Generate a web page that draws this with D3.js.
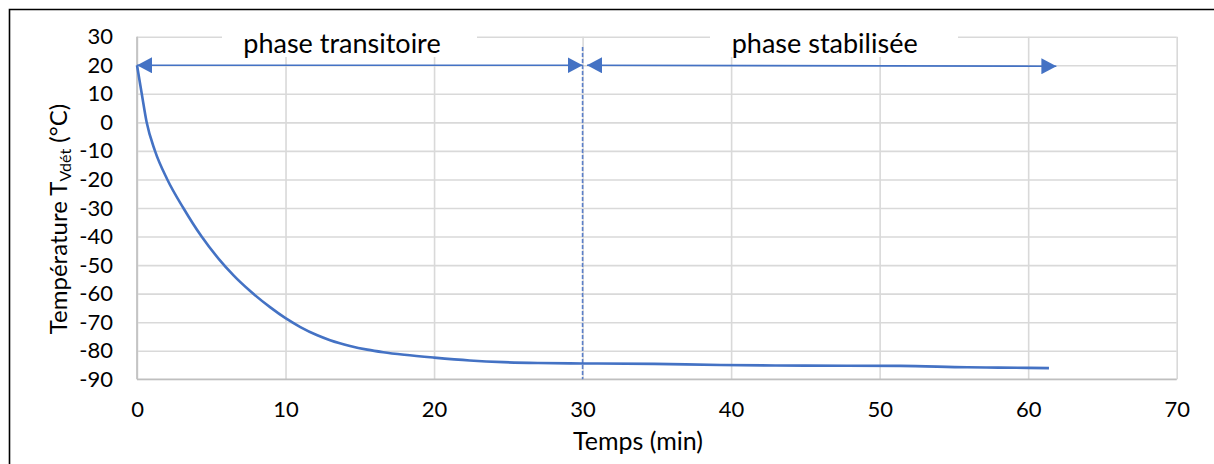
<!DOCTYPE html>
<html lang="fr">
<head>
<meta charset="UTF-8">
<title>Température T_Vdét</title>
<script src="https://d3js.org/d3.v7.min.js"></script>
<style>
  body { margin: 0; background: #fff; }
  svg { display: block; font-family: Lato, "Open Sans", sans-serif; }
</style>
</head>
<body>
<svg width="1214" height="464"></svg>
<script>
// temps (min) et température (°C)
const temps = [0, 0.32, 0.65, 1.21, 2.04, 3.12, 4.35, 5.5, 6.5, 7.6, 9, 10, 11, 12.1, 13, 14.34,
  15.5, 16.58, 18, 20, 22.4, 24.67, 27, 30, 34.8, 39.3, 45, 51.4, 55.9, 58, 60, 61.4];
const temperature = [20, 10, 0, -10, -20, -30, -40, -47.8, -53.6, -59, -64.9, -68.6, -71.7, -74.5, -76.3, -78.3,
  -79.6, -80.5, -81.4, -82.4, -83.4, -84, -84.3, -84.45, -84.6, -85, -85.2, -85.3, -85.8, -85.9, -86, -86.1];

const xTicks = [0, 10, 20, 30, 40, 50, 60, 70];
const yTicks = [30, 20, 10, 0, -10, -20, -30, -40, -50, -60, -70, -80, -90];

// flèches des phases : [début, fin] en minutes, à 20 °C
const phases = [
  {label: 'phase transitoire', from: 0, to: 30, center: 13.8},
  {label: 'phase stabilisée', from: 30.3, to: 61.9, center: 46.3}
];
const phaseLimit = 30;

const width = 1214, height = 464;
const margin = {top: 36.7, left: 137, bottom: 84.7, right: 37.3};
const blue = '#4472c4';

const svg = d3.select('svg');

const x = d3.scaleLinear().domain([0, 70]).range([margin.left, width - margin.right]);
const y = d3.scaleLinear().domain([-90, 30]).range([height - margin.bottom, margin.top]);

// cadre
svg.append('path')
  .attr('d', `M9.5,${height + 2}V9.5H${width + 2}`)
  .attr('fill', 'none').attr('stroke', '#000').attr('stroke-width', 1.6);

// quadrillage
svg.append('g')
  .attr('transform', `translate(0,${y(-90)})`)
  .call(d3.axisBottom(x).tickValues(xTicks).tickSize(-(y(-90) - y(30))).tickFormat(''))
  .call(g => g.select('.domain').remove())
  .call(g => g.selectAll('line').attr('stroke', '#d9d9d9').attr('stroke-width', 1.6));
svg.append('g')
  .attr('transform', `translate(${x(0)},0)`)
  .call(d3.axisLeft(y).tickValues(yTicks).tickSize(-(x(70) - x(0))).tickFormat(''))
  .call(g => g.select('.domain').remove())
  .call(g => g.selectAll('line').attr('stroke', '#d9d9d9').attr('stroke-width', 1.6));

// axes
svg.append('line')
  .attr('x1', x(0)).attr('x2', x(70)).attr('y1', y(-90)).attr('y2', y(-90))
  .attr('stroke', '#bfbfbf').attr('stroke-width', 1.6);
svg.append('line')
  .attr('x1', x(0)).attr('x2', x(0)).attr('y1', y(30)).attr('y2', y(-90))
  .attr('stroke', '#bfbfbf').attr('stroke-width', 1.6);

// étiquettes des graduations
svg.append('g')
  .attr('transform', `translate(${x(0)},0)`)
  .call(d3.axisLeft(y).tickValues(yTicks).tickSize(0).tickPadding(24).tickFormat(d => String(d)))
  .call(g => g.select('.domain').remove())
  .call(g => g.selectAll('text').attr('font-size', 22).attr('fill', '#000').attr('font-family', 'Lato'));
svg.append('g')
  .attr('transform', `translate(0,${y(-90)})`)
  .call(d3.axisBottom(x).tickValues(xTicks).tickSize(0).tickPadding(22))
  .call(g => g.select('.domain').remove())
  .call(g => g.selectAll('text').attr('font-size', 22).attr('fill', '#000').attr('font-family', 'Lato'));

// titres des axes
svg.append('text')
  .attr('x', 638).attr('y', 450)
  .attr('text-anchor', 'middle').attr('font-size', 25)
  .text('Temps (min)');
const yTitle = svg.append('text')
  .attr('transform', 'translate(67,219) rotate(-90)')
  .attr('text-anchor', 'middle').attr('font-size', 24);
yTitle.append('tspan').text('Température T');
yTitle.append('tspan').attr('font-size', 16).attr('dy', 4).text('Vdét');
yTitle.append('tspan').attr('dy', -4).text(' (°C)');

// limite entre phases
svg.append('line')
  .attr('x1', x(phaseLimit)).attr('x2', x(phaseLimit))
  .attr('y1', y(26.4)).attr('y2', y(-90))
  .attr('stroke', '#5b7fc9').attr('stroke-width', 1.6).attr('stroke-dasharray', '4,2');

// étiquettes des phases (fond blanc)
const boxes = [[222, 477], [710, 958]];
phases.forEach((p, i) => {
  svg.append('rect')
    .attr('x', boxes[i][0]).attr('y', 20)
    .attr('width', boxes[i][1] - boxes[i][0]).attr('height', 37)
    .attr('fill', '#fff');
  svg.append('text')
    .attr('x', x(p.center)).attr('y', 53)
    .attr('text-anchor', 'middle').attr('font-size', 27)
    .text(p.label);
});

// flèches
const defs = svg.append('defs');
defs.append('marker')
  .attr('id', 'head').attr('viewBox', '0 0 15 16')
  .attr('refX', 15).attr('refY', 8)
  .attr('markerWidth', 15).attr('markerHeight', 16)
  .attr('markerUnits', 'userSpaceOnUse')
  .attr('orient', 'auto-start-reverse')
  .append('path').attr('d', 'M0,0L15,8L0,16Z').attr('fill', blue);

phases.forEach(p => {
  svg.append('line')
    .attr('x1', x(p.from)).attr('x2', x(p.to))
    .attr('y1', y(20)).attr('y2', y(20) + (p.from > 0 ? 1 : 0))
    .attr('stroke', blue).attr('stroke-width', 1.6)
    .attr('marker-start', 'url(#head)').attr('marker-end', 'url(#head)');
});

// courbe
const data = temps.map((t, i) => ({t, v: temperature[i]}));
svg.append('path')
  .datum(data)
  .attr('fill', 'none')
  .attr('stroke', blue)
  .attr('stroke-width', 2.6)
  .attr('stroke-linejoin', 'round')
  .attr('d', d3.line().x(d => x(d.t)).y(d => y(d.v)).curve(d3.curveMonotoneX));
</script>
</body>
</html>
